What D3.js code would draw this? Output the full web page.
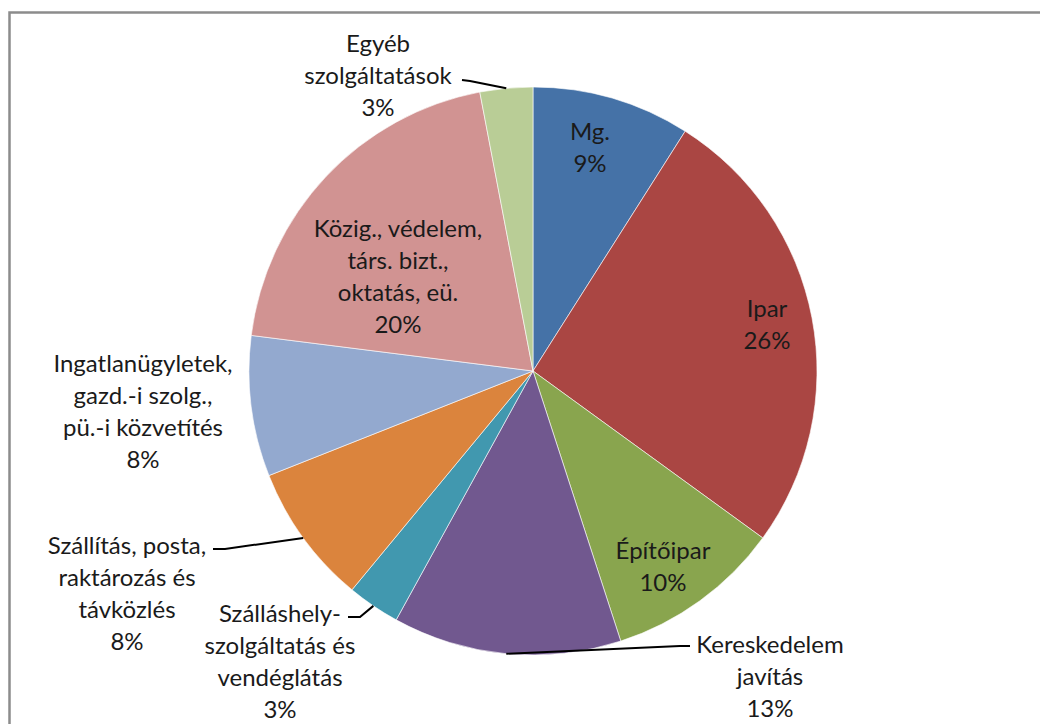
<!DOCTYPE html>
<html>
<head>
<meta charset="utf-8">
<script src="https://cdn.jsdelivr.net/npm/d3@7"></script>
<style>
  body { margin: 0; background: #fff; }
  svg { display: block; }
  text { font-family: Lato, "Open Sans", sans-serif; font-size: 24px; fill: #1a1a1a; }
</style>
</head>
<body>
<svg id="chart" width="1040" height="724"></svg>
<script>
// sectors, clockwise from 12 o'clock
var categories = [
  ["Mg."],
  ["Ipar"],
  ["Építőipar"],
  ["Kereskedelem", "javítás"],
  ["Szálláshely-", "szolgáltatás és", "vendéglátás"],
  ["Szállítás, posta,", "raktározás és", "távközlés"],
  ["Ingatlanügyletek,", "gazd.-i szolg.,", "pü.-i közvetítés"],
  ["Közig., védelem,", "társ. bizt.,", "oktatás, eü."],
  ["Egyéb", "szolgáltatások"]
];
var shares = [9, 26, 10, 13, 3, 8, 8, 20, 3];
var colors = ["#4572A7", "#AA4643", "#89A54E", "#71588F", "#4198AF",
              "#DB843D", "#93A9CF", "#D19392", "#B9CD96"];

// where each label block sits (centre), and the label-side end of its leader line
var labelPlace = [
  { x: 590, y: 146 },
  { x: 767, y: 323 },
  { x: 663, y: 565 },
  { x: 770, y: 675, lead: [[690, 646], [680, 646]] },
  { x: 280, y: 660, lead: [[348, 617], [360, 617]] },
  { x: 127, y: 592, lead: [[213, 549], [225, 549]] },
  { x: 143, y: 410 },
  { x: 398, y: 275 },
  { x: 378, y: 74, lead: [[462, 80], [470, 81]] }
];

var cx = 533, cy = 371, R = 284, lineH = 32;

var svg = d3.select("#chart");

// frame of the chart area (runs off the right and bottom edges)
svg.append("rect")
  .attr("x", 9.5).attr("y", 12.5)
  .attr("width", 1100).attr("height", 800)
  .attr("fill", "none").attr("stroke", "#8c8c8c").attr("stroke-width", 2.5);

var pie = d3.pie().sort(null).value(function(d) { return d; });
var arcs = pie(shares);
var arc = d3.arc().innerRadius(0).outerRadius(R);

var g = svg.append("g").attr("transform", "translate(" + cx + "," + cy + ")");

g.selectAll("path.slice")
  .data(arcs)
  .enter().append("path")
  .attr("class", "slice")
  .attr("d", arc)
  .attr("fill", function(d, i) { return colors[i]; })
  .attr("stroke", "#fff")
  .attr("stroke-width", 0.6);

// leader lines: from the arc at the mid-angle out to the label
arcs.forEach(function(d, i) {
  var p = labelPlace[i];
  if (!p.lead) return;
  var a = (d.startAngle + d.endAngle) / 2;
  var edge = [cx + R * Math.sin(a), cy - R * Math.cos(a)];
  svg.append("path")
    .attr("d", d3.line()([p.lead[0], p.lead[1], edge]))
    .attr("fill", "none")
    .attr("stroke", "#000")
    .attr("stroke-width", 2);
});

// labels
arcs.forEach(function(d, i) {
  var p = labelPlace[i];
  var lines = categories[i].concat([shares[i] + "%"]);
  var t = svg.append("text")
    .attr("text-anchor", "middle");
  lines.forEach(function(s, k) {
    t.append("tspan")
      .attr("x", p.x)
      .attr("y", p.y + (k - (lines.length - 1) / 2) * lineH)
      .attr("dominant-baseline", "central")
      .text(s);
  });
});
</script>
</body>
</html>
